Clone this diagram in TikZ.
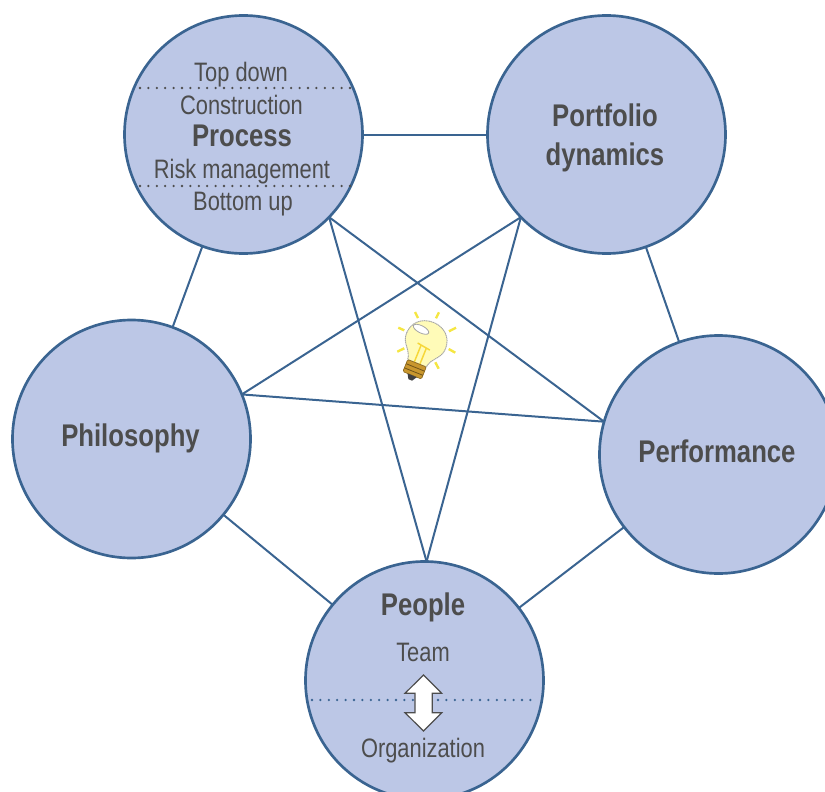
\documentclass[tikz,border=0pt]{standalone}
\usepackage{fontspec}
\setmainfont{Liberation Sans}[FakeStretch=0.82]
\definecolor{ringblue}{HTML}{3A6491}
\definecolor{discfill}{HTML}{BCC7E6}
\definecolor{inktext}{HTML}{4D4D4D}
\definecolor{bulbfill}{HTML}{FFFBB8}
\definecolor{bulbgold}{HTML}{C9972E}
\definecolor{rayyellow}{HTML}{F5E642}
\tikzset{
  disc/.style={circle,draw=ringblue,fill=discfill,line width=2pt,minimum size=178.5pt,inner sep=0pt,outer sep=0pt},
  link/.style={draw=ringblue,line width=1.5pt},
  headtext/.style={text=inktext,font=\fontsize{23.5}{24}\selectfont\bfseries,align=center,inner sep=0pt},
  subtext/.style={text=inktext,font=\fontsize{20}{22}\selectfont,inner sep=0pt},
  dotrule/.style={line width=1.9pt,line cap=round,dash pattern=on 0pt off 6.3pt},
  ray/.style={draw=rayyellow,line width=1.8pt},
}
\begin{document}
\begin{tikzpicture}[x=0.75pt,y=-0.75pt]
\useasboundingbox (0,0) rectangle (825,792);
% discs
\node[disc] (process) at (243.5,134.5) {};
\node[disc] (portfolio) at (606.5,134.5) {};
\node[disc] (philosophy) at (131.5,439) {};
\node[disc] (performance) at (718.5,454.5) {};
\node[disc] (people) at (424.5,680.5) {};
% ring connectors
\draw[link] (process) -- (portfolio);
\draw[link] (process) -- (philosophy);
\draw[link] (portfolio) -- (performance);
\draw[link] (philosophy) -- (people);
\draw[link] (performance) -- (people);
% star connectors
\draw[link] (process.-44) -- (people.89);
\draw[link] (process.-44) -- (performance.164);
\draw[link] (portfolio.224) -- (philosophy.22);
\draw[link] (portfolio.224) -- (people.89);
\draw[link] (philosophy.22) -- (performance.164);
% disc labels
\node[headtext] (portfoliolabel) at (605,138) {Portfolio\\[5pt]dynamics};
\node[headtext] (philosophylabel) at (130.5,438.5) {Philosophy};
\node[headtext] (performancelabel) at (717,451) {Performance};
\node[headtext] (peoplelabel) at (423,607) {People};
\node[headtext] (processlabel) at (242,136) {Process};
\node[subtext] (topdown) at (241,75) {Top down};
\node[subtext] (construction) at (241.5,105) {Construction};
\node[subtext] (risk) at (242,172) {Risk management};
\node[subtext] (bottomup) at (243,204) {Bottom up};
\node[subtext] (team) at (423,652) {Team};
\node[subtext] (organization) at (423,751) {Organization};
% dotted rules
\coordinate (topruleL) at (140,88);
\coordinate (topruleR) at (352,88);
\coordinate (botruleL) at (140,186);
\coordinate (botruleR) at (352,186);
\coordinate (pepruleL) at (312,700);
\coordinate (pepruleR) at (536,700);
\draw[dotrule,inktext] (topruleL) -- (topruleR);
\draw[dotrule,inktext] (botruleL) -- (botruleR);
\draw[dotrule,ringblue] (pepruleL) -- (pepruleR);
% double arrow
\draw[fill=white,draw=inktext,line width=0.9pt,line join=miter]
  (423.5,675) -- (441.7,693.3) -- (432.3,693.3) -- (432.3,712.7) -- (441.7,712.7)
  -- (423.5,731) -- (405,712.7) -- (415,712.7) -- (415,693.3) -- (405,693.3) -- cycle;
% light bulb
\draw[ray] (415,312) -- (418,318);
\draw[ray] (439,312.3) -- (436,318.3);
\draw[ray] (456,327.7) -- (449,331.3);
\draw[ray] (398.3,327.7) -- (404.3,330.3);
\draw[ray] (397.3,351.7) -- (404.3,348.3);
\draw[ray] (455.3,352.7) -- (448.7,349);
\draw[ray] (435.3,362.3) -- (438.7,368.7);
\begin{scope}[shift={(426,341)},rotate=-22]
  \filldraw[fill=bulbfill,draw=gray!70,line width=0.7pt,dash pattern=on 1pt off 0.4pt]
    (-21,0) .. controls (-21,-12) and (-12,-20) .. (0,-20)
    .. controls (12,-20) and (21,-12) .. (21,0)
    .. controls (21,11) and (11,14) .. (10,24)
    -- (-10,24) .. controls (-11,14) and (-21,11) .. (-21,0) -- cycle;
  \draw[draw=rayyellow!85!orange,line width=1.1pt,line join=round]
    (-3,24) -- (-3,6) (3,24) -- (3,6) (-7,5) -- (7,7);
  \filldraw[fill=white,draw=gray!70,line width=0.6pt,rotate around={-5:(-9,-9)}]
    (-9,-9) ellipse (8.5 and 3.6);
  \filldraw[fill=bulbgold,draw=bulbgold!70!black,line width=0.5pt,rounded corners=1pt]
    (-10,24) rectangle (10,37);
  \draw[bulbgold!55!black,line width=0.6pt] (-10,28.5) -- (10,28.5) (-10,33) -- (10,33);
  \fill[black!75] (-5,37) -- (5,37) -- (2,42) -- (-2,42) -- cycle;
\end{scope}
\end{tikzpicture}
\end{document}
